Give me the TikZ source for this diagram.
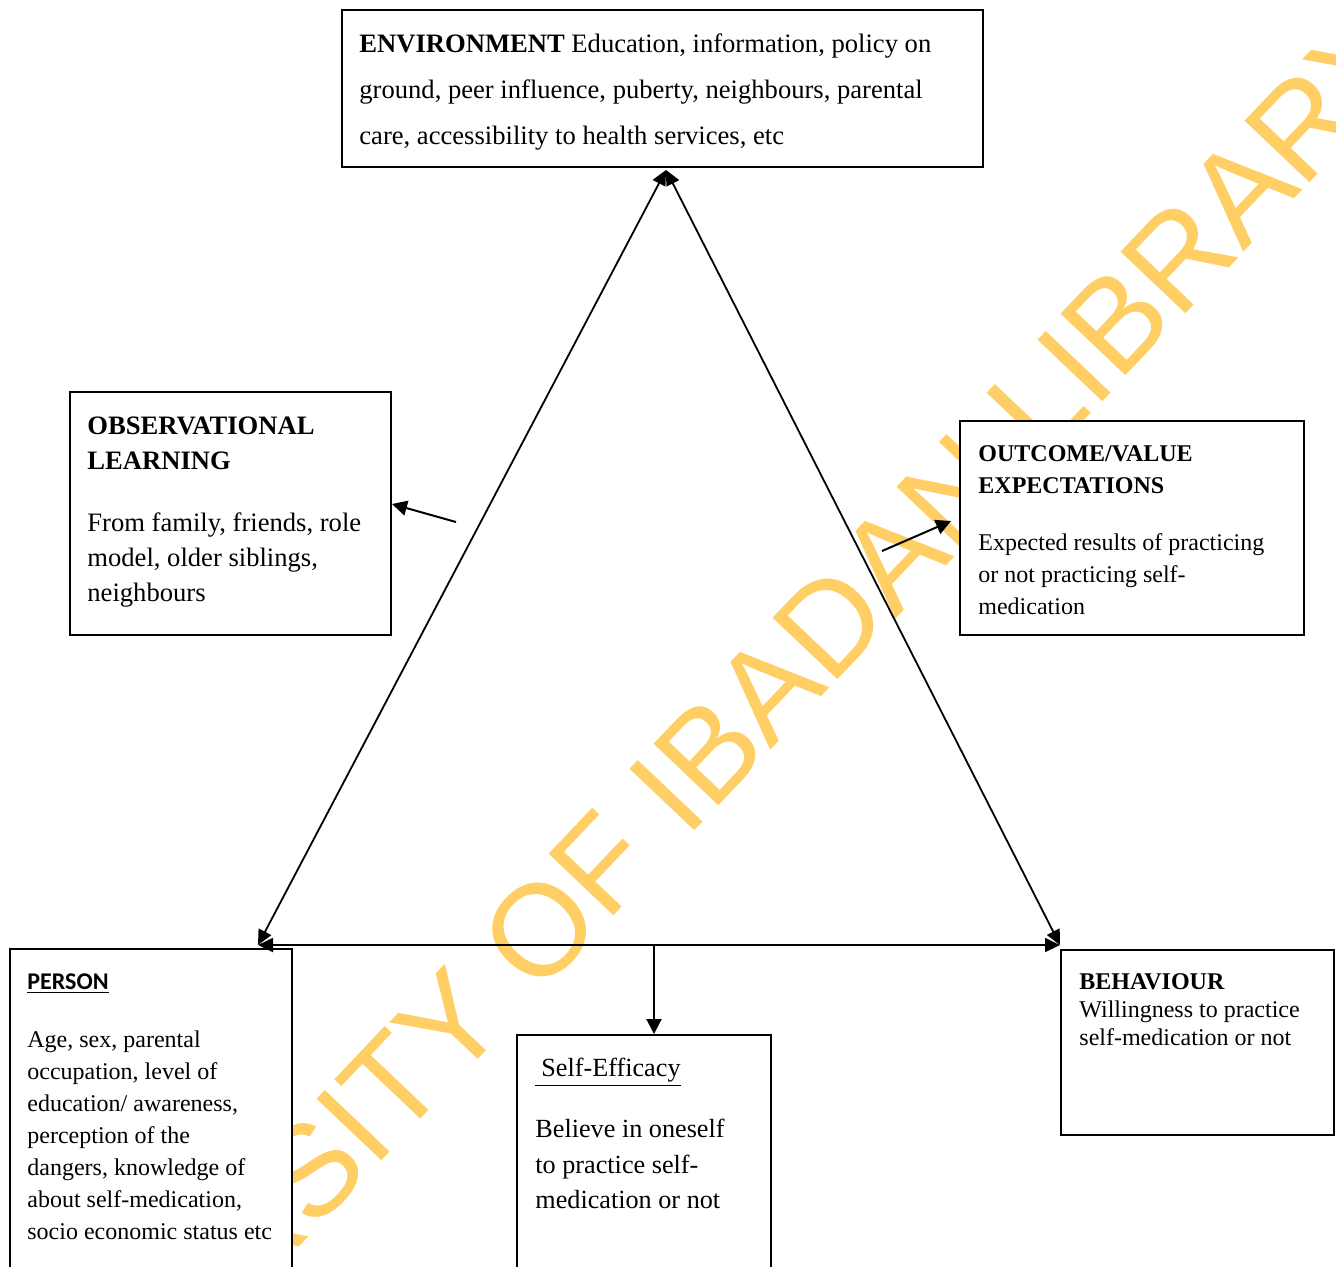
\documentclass[tikz,border=0pt]{standalone}
\usepackage{fontspec}
\setmainfont{Liberation Serif}
\newfontfamily\calibri{Carlito}
\newfontfamily\arial{Liberation Sans}
\usetikzlibrary{calc,arrows.meta}
\definecolor{stamp}{RGB}{255,207,102}

\begin{document}
\begin{tikzpicture}[x=0.5pt,y=-0.5pt]
%styles
\tikzstyle{frame}=[draw, fill=white, line width=1pt, anchor=north west, inner sep=0pt]
\tikzstyle{note}=[anchor=north west, align=left, inner sep=0pt, text=black]
\tikzstyle{link}=[{Triangle[length=7.5pt,width=7pt]}-{Triangle[length=7.5pt,width=7pt]}, line width=0.9pt]
\tikzstyle{pointer}=[-{Triangle[length=7.5pt,width=7.5pt]}, line width=1pt]
\useasboundingbox (0,0) rectangle (1336,1266);

%watermark
\node[text=stamp, rotate=46.5, inner sep=0pt, font=\arial\fontsize{65}{65}\selectfont] (stamp) at (668,794) {UNIVERSITY OF IBADAN LIBRARY};

%boxes
\node[frame, minimum width=320.5pt, minimum height=78.5pt] (env) at (341,9) {};
\node[frame, minimum width=160.5pt, minimum height=121.5pt] (obs) at (69,391) {};
\node[frame, minimum width=172pt, minimum height=107pt] (out) at (959,420) {};
\node[frame, minimum width=141pt, minimum height=180pt] (person) at (9,948) {};
\node[frame, minimum width=127pt, minimum height=130pt] (self) at (516,1034) {};
\node[frame, minimum width=136.5pt, minimum height=92.5pt] (beh) at (1060,949) {};

%text
\node[note, font=\fontsize{13.3}{23}\selectfont] (envText) at (359,33)
  {\textbf{ENVIRONMENT} Education, information, policy on\\
   ground, peer influence, puberty, neighbours, parental\\
   care, accessibility to health services, etc};
\node[note, font=\fontsize{13.3}{17.5}\selectfont] (obsText) at (87,416)
  {\textbf{OBSERVATIONAL}\\
   \textbf{LEARNING}\\[13.5pt]
   From family, friends, role\\
   model, older siblings,\\
   neighbours};
\node[note, font=\fontsize{12}{16.2}\selectfont] (outText) at (978,445)
  {\textbf{OUTCOME/VALUE}\\
   \textbf{EXPECTATIONS}\\[12pt]
   Expected results of practicing\\
   or not practicing self-\\
   medication};
\node[note, font=\fontsize{12}{16}\selectfont] (personText) at (27,973)
  {{\calibri\underline{\textbf{PERSON}}}\\[13pt]
   Age, sex, parental\\
   occupation, level of\\
   education/ awareness,\\
   perception of the\\
   dangers, knowledge of\\
   about self-medication,\\
   socio economic status etc};
\node[note, font=\fontsize{13.1}{17.75}\selectfont] (selfText) at (535,1058)
  {\underline{\hspace{3pt}Self-Efficacy}\\[12.75pt]
   Believe in oneself\\
   to practice self-\\
   medication or not};
\node[note, font=\fontsize{12}{14}\selectfont] (behText) at (1079,973)
  {\textbf{BEHAVIOUR}\\
   Willingness to practice\\
   self-medication or not};

%triangle
\coordinate (top) at (666,170);
\coordinate (left) at (258,945);
\coordinate (right) at (1060,945);
\draw[link] (top) -- (left);
\draw[link] (top) -- (right);
\draw[link] (left) -- (right);

%arrows
\coordinate (drop) at (654,945);
\draw[pointer] (drop) -- (drop |- self.north);
\coordinate (obsTail) at (456,522);
\draw[pointer] (obsTail) -- ($(obs.east)+(0,-9.5)$);
\coordinate (outTail) at (882,551);
\draw[pointer] (outTail) -- ($(out.west)+(-8,-7)$);
\end{tikzpicture}
\end{document}
